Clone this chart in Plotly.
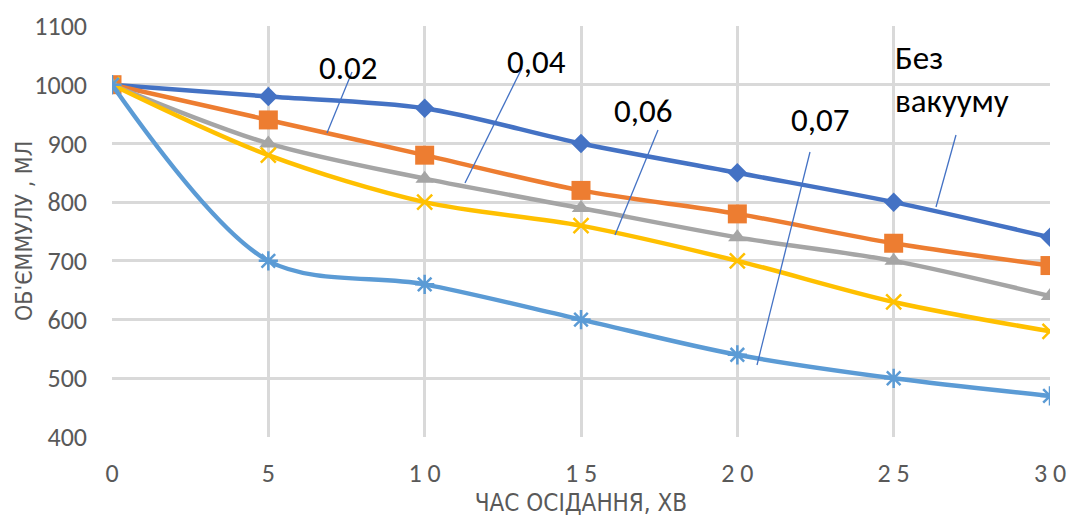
import plotly.graph_objects as go

time_min = [0, 5, 10, 15, 20, 25, 30]
no_vacuum = [1000, 980, 960, 900, 850, 800, 740]
vac_002 = [1000, 940, 880, 820, 780, 730, 692]
vac_004 = [1000, 900, 840, 790, 740, 700, 640]
vac_006 = [1000, 880, 800, 760, 700, 630, 580]
vac_007 = [1000, 700, 660, 600, 540, 500, 470]

x_ticks = [0, 5, 10, 15, 20, 25, 30]
x_tick_text = ["0", "5", "1 0", "1 5", "2 0", "2 5", "3 0"]
y_ticks = [400, 500, 600, 700, 800, 900, 1000, 1100]

series = [
    ("Без вакууму", no_vacuum, "#4472C4", dict(symbol="diamond", size=15, color="#4472C4")),
    ("0.02", vac_002, "#ED7D31", dict(symbol="square", size=19, color="#ED7D31")),
    ("0,04", vac_004, "#A5A5A5", dict(symbol="triangle-up", size=16, color="#A5A5A5")),
    ("0,06", vac_006, "#FFC000", dict(symbol="x-thin", size=15, color="#FFC000",
                                      line=dict(width=2.5, color="#FFC000"))),
    ("0,07", vac_007, "#5B9BD5", dict(symbol="asterisk", size=16, color="#5B9BD5",
                                      line=dict(width=2.5, color="#5B9BD5"))),
]

fig = go.Figure()
for name, vals, col, mk in series:
    fig.add_trace(go.Scatter(
        x=time_min, y=vals, name=name, mode="lines+markers",
        line=dict(color=col, width=4.5, shape="spline", smoothing=0.9),
        marker=mk, showlegend=False,
    ))

W, H = 1069, 518
# plot area in pixels
L, R, T, B = 112, 1050, 26, 437


def px(x):
    return (x - L) / (R - L)


def py(y):
    return (B - y) / (B - T)


lab_font = dict(family="Carlito, Liberation Sans, Arial, sans-serif", size=33, color="#000000")
labels = [
    ("0.02", 348, 68, (352, 72, 327, 133)),
    ("0,04", 536, 62, (522, 68, 465, 183)),
    ("0,06", 643, 111, (658, 130, 615, 235)),
    ("0,07", 820, 120, (810, 152, 757, 365)),
]
shapes = []
annotations = []
for text, tx, ty, (x0, y0, x1, y1) in labels:
    annotations.append(dict(text=text, x=px(tx), y=py(ty), xref="paper", yref="paper",
                            showarrow=False, font=lab_font, xanchor="center", yanchor="middle"))
    shapes.append(dict(type="line", xref="paper", yref="paper", x0=px(x0), y0=py(y0),
                       x1=px(x1), y1=py(y1), line=dict(color="#4472C4", width=1.3)))

# box for "Без вакууму"
shapes.append(dict(type="rect", xref="paper", yref="paper", x0=px(873), x1=px(1035),
                   y0=py(135), y1=py(28), fillcolor="white", line=dict(width=0), layer="between"))
shapes.append(dict(type="line", xref="paper", yref="paper", x0=px(956), y0=py(135),
                   x1=px(936), y1=py(207), line=dict(color="#4472C4", width=1.3)))
annotations.append(dict(text="Без<br>вакууму", x=px(893), y=py(80), xref="paper", yref="paper",
                        showarrow=False, font=lab_font, xanchor="left", yanchor="middle", align="left"))

narrow = "DejaVu Sans Condensed, Liberation Sans Narrow, Arial Narrow, sans-serif"
# y axis title
annotations.append(dict(text="ОБ'ЄММУЛУ , МЛ", x=px(24), y=py(231), xref="paper", yref="paper",
                        showarrow=False, textangle=-90, xanchor="center", yanchor="middle",
                        font=dict(family=narrow, size=23, color="#595959")))

tick_font = dict(family="Carlito, Liberation Sans, sans-serif", size=26, color="#595959")
fig.update_layout(
    width=W, height=H,
    margin=dict(l=L, r=W - R, t=T, b=H - B, autoexpand=False),
    paper_bgcolor="white", plot_bgcolor="white",
    shapes=shapes, annotations=annotations,
    xaxis=dict(range=[0, 30], tickvals=x_ticks, ticktext=x_tick_text,
               showgrid=True, gridcolor="#D9D9D9", gridwidth=2.5,
               zeroline=False, showline=False, ticks="", ticklabelstandoff=18,
               tickfont=tick_font,
               title=dict(text="ЧАС ОСІДАННЯ, ХВ", standoff=6,
                          font=dict(family=narrow, size=24, color="#595959"))),
    yaxis=dict(range=[400, 1100], tickvals=y_ticks,
               showgrid=True, gridcolor="#D9D9D9", gridwidth=2.5,
               zeroline=False, showline=False, ticks="", ticklabelstandoff=24,
               tickfont=tick_font),
)
fig.write_html(
    "out.html",
    config={"displayModeBar": False},
    post_script="document.body.style.margin='0';document.body.style.overflow='hidden';",
)
